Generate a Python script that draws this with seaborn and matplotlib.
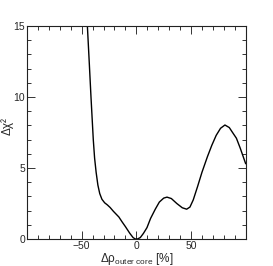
import matplotlib
matplotlib.use("Agg")
import matplotlib.pyplot as plt
import seaborn as sns
import pandas as pd
from matplotlib.ticker import MultipleLocator

# valores
delta_rho = [-46.8, -44.8, -43.0, -41.5, -39.4, -38.2, -36.8, -35.2, -33.5, -31.5,
             -29.0, -26.5, -24.0, -21.0, -16.0, -13.0, -10.0, -6.0, -3.0, -1.0,
             1.0, 3.6, 6.5, 9.7, 13.0, 17.3, 21.0, 25.0, 28.0, 32.0,
             37.0, 42.0, 46.0, 49.0, 52.0, 56.0, 60.0, 65.0, 69.0, 73.0,
             77.0, 81.0, 85.0, 88.0, 91.5, 95.0, 100.0]
delta_chi2 = [18.0, 15.0, 12.3, 10.0, 7.0, 5.7, 4.7, 3.8, 3.2, 2.8,
              2.55, 2.4, 2.22, 1.95, 1.55, 1.2, 0.87, 0.4, 0.1, 0.0,
              0.0, 0.1, 0.4, 0.8, 1.45, 2.1, 2.6, 2.88, 2.95, 2.85,
              2.5, 2.2, 2.1, 2.25, 2.75, 3.7, 4.7, 5.8, 6.6, 7.3,
              7.8, 8.03, 7.85, 7.5, 7.1, 6.4, 5.3]

df = pd.DataFrame({"drho": delta_rho, "dchi2": delta_chi2})

sns.set_style("ticks")
plt.rcParams["font.family"] = ["Liberation Sans", "DejaVu Sans"]
plt.rcParams["mathtext.fontset"] = "custom"
plt.rcParams["mathtext.rm"] = "Liberation Sans"
plt.rcParams["mathtext.it"] = "Liberation Sans:italic"

fig = plt.figure(figsize=(2.73, 2.66), dpi=100)
ax = fig.add_axes([0.099, 0.1015, 0.801, 0.8005])

sns.lineplot(data=df, x="drho", y="dchi2", color="black", linewidth=1.0,
             sort=False, ax=ax)

ax.set_xlim(-100, 100)
ax.set_ylim(0, 15)
ax.xaxis.set_major_locator(MultipleLocator(50))
ax.xaxis.set_minor_locator(MultipleLocator(10))
ax.yaxis.set_major_locator(MultipleLocator(5))
ax.yaxis.set_minor_locator(MultipleLocator(1))
ax.tick_params(which="both", direction="in", top=True, right=True,
               labelsize=7.5, color="#333333", width=0.7)
ax.tick_params(which="major", length=5.8, pad=1.5)
ax.tick_params(which="minor", length=3.0)
ax.set_xticks([-50, 0, 50])
ax.set_xticklabels(["\u221250", "0", "50"])
ax.set_yticks([0, 5, 10, 15])
for s in ax.spines.values():
    s.set_linewidth(0.8)
    s.set_color("#222222")

ax.set_xlabel(r"$\Delta\mathrm{\rho}_{\mathrm{outer\ core}}$ [%]", fontsize=8.5)
ax.xaxis.set_label_coords(0.5, -0.056)
ax.set_ylabel("\u0394\u03c7\u00b2", fontsize=8.5)
ax.yaxis.set_label_coords(-0.06, 0.53)

fig.savefig("out.png", dpi=100)
